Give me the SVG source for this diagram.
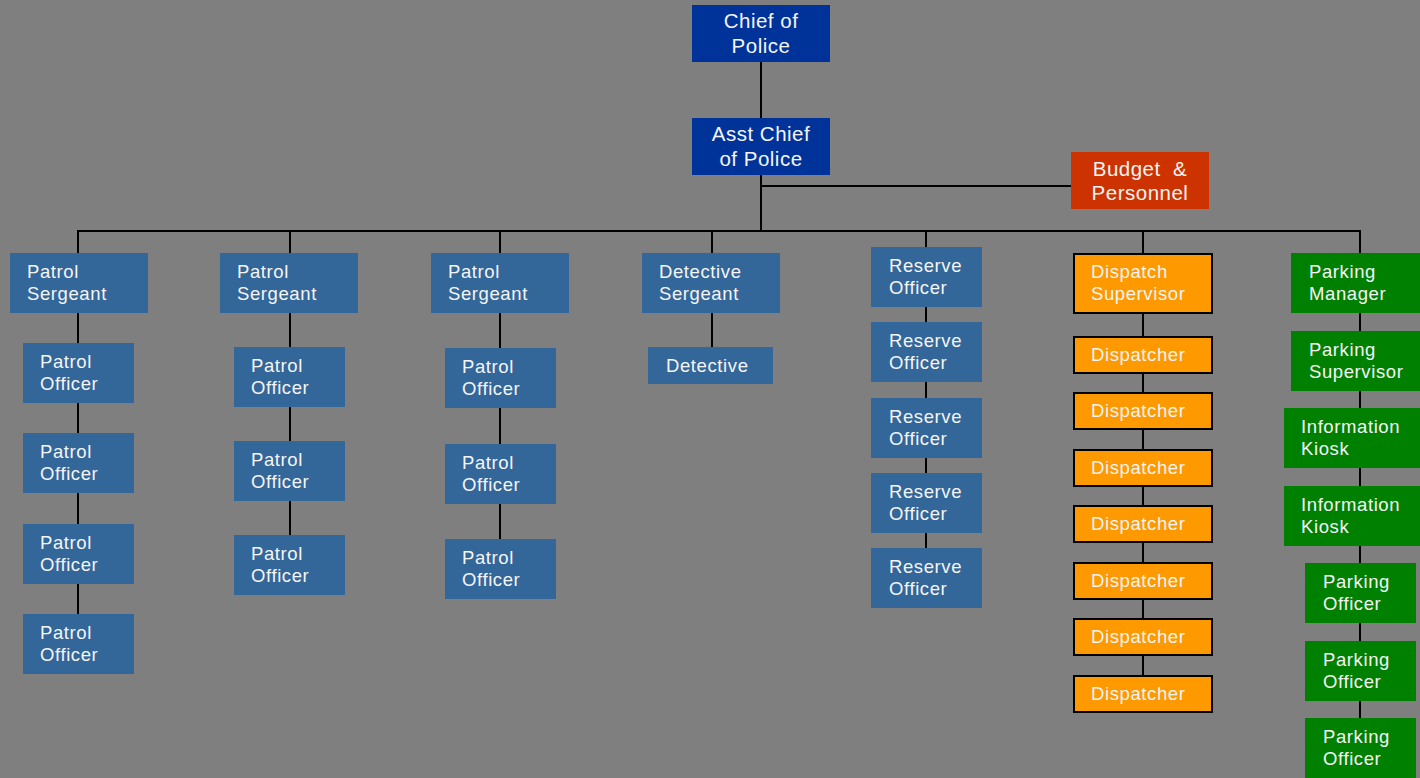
<svg xmlns="http://www.w3.org/2000/svg" width="1420" height="778" viewBox="0 0 1420 778">
<style>
.bg{fill:#7f7f7f}
.ln{stroke:#000;stroke-width:2;fill:none}
.nv{fill:#003399}
.bl{fill:#336699}
.rd{fill:#cc3300}
.or{fill:#ff9900;stroke:#000;stroke-width:2}
.gr{fill:#008000}
text{font-family:"Liberation Sans",Arial,sans-serif;fill:#f5f5f5;font-size:18.5px;letter-spacing:0.6px}
.big{font-size:20.5px;text-anchor:middle;letter-spacing:0.5px}
</style>
<rect class="bg" x="0" y="0" width="1420" height="778"/>
<g id="connectors">
<line class="ln" x1="761" y1="62" x2="761" y2="232"/>
<line class="ln" x1="761" y1="186" x2="1071" y2="186"/>
<line class="ln" x1="77" y1="231" x2="1361" y2="231"/>
<line class="ln" x1="78" y1="231" x2="78" y2="614"/>
<line class="ln" x1="290" y1="231" x2="290" y2="535"/>
<line class="ln" x1="500" y1="231" x2="500" y2="539"/>
<line class="ln" x1="712" y1="231" x2="712" y2="347"/>
<line class="ln" x1="926" y1="231" x2="926" y2="548"/>
<line class="ln" x1="1143" y1="231" x2="1143" y2="675"/>
<line class="ln" x1="1360" y1="231" x2="1360" y2="718"/>
</g>
<g id="chief"><rect class="nv" x="692" y="5" width="138" height="57"/><text class="big" x="761" y="28">Chief of</text><text class="big" x="761" y="53">Police</text></g>
<g id="asst-chief"><rect class="nv" x="692" y="118" width="138" height="57"/><text class="big" x="761" y="141">Asst Chief</text><text class="big" x="761" y="166">of Police</text></g>
<g id="budget"><rect class="rd" x="1071" y="152" width="138" height="57"/><text class="big" x="1140" y="176" xml:space="preserve">Budget  &amp;</text><text class="big" x="1140" y="200">Personnel</text></g>

<g id="patrol-sergeant-1"><rect class="bl" x="10" y="253" width="138" height="60"/><text x="27" y="278">Patrol</text><text x="27" y="300">Sergeant</text></g>
<g id="patrol-officer-1a"><rect class="bl" x="23" y="343" width="111" height="60"/><text x="40" y="368">Patrol</text><text x="40" y="390">Officer</text></g>
<g id="patrol-officer-1b"><rect class="bl" x="23" y="433" width="111" height="60"/><text x="40" y="458">Patrol</text><text x="40" y="480">Officer</text></g>
<g id="patrol-officer-1c"><rect class="bl" x="23" y="524" width="111" height="60"/><text x="40" y="549">Patrol</text><text x="40" y="571">Officer</text></g>
<g id="patrol-officer-1d"><rect class="bl" x="23" y="614" width="111" height="60"/><text x="40" y="639">Patrol</text><text x="40" y="661">Officer</text></g>

<g id="patrol-sergeant-2"><rect class="bl" x="220" y="253" width="138" height="60"/><text x="237" y="278">Patrol</text><text x="237" y="300">Sergeant</text></g>
<g id="patrol-officer-2a"><rect class="bl" x="234" y="347" width="111" height="60"/><text x="251" y="372">Patrol</text><text x="251" y="394">Officer</text></g>
<g id="patrol-officer-2b"><rect class="bl" x="234" y="441" width="111" height="60"/><text x="251" y="466">Patrol</text><text x="251" y="488">Officer</text></g>
<g id="patrol-officer-2c"><rect class="bl" x="234" y="535" width="111" height="60"/><text x="251" y="560">Patrol</text><text x="251" y="582">Officer</text></g>

<g id="patrol-sergeant-3"><rect class="bl" x="431" y="253" width="138" height="60"/><text x="448" y="278">Patrol</text><text x="448" y="300">Sergeant</text></g>
<g id="patrol-officer-3a"><rect class="bl" x="445" y="348" width="111" height="60"/><text x="462" y="373">Patrol</text><text x="462" y="395">Officer</text></g>
<g id="patrol-officer-3b"><rect class="bl" x="445" y="444" width="111" height="60"/><text x="462" y="469">Patrol</text><text x="462" y="491">Officer</text></g>
<g id="patrol-officer-3c"><rect class="bl" x="445" y="539" width="111" height="60"/><text x="462" y="564">Patrol</text><text x="462" y="586">Officer</text></g>

<g id="detective-sergeant"><rect class="bl" x="642" y="253" width="138" height="60"/><text x="659" y="278">Detective</text><text x="659" y="300">Sergeant</text></g>
<g id="detective"><rect class="bl" x="648" y="347" width="125" height="37"/><text x="666" y="372">Detective</text></g>

<g id="reserve-officer-1"><rect class="bl" x="871" y="247" width="111" height="60"/><text x="889" y="272">Reserve</text><text x="889" y="294">Officer</text></g>
<g id="reserve-officer-2"><rect class="bl" x="871" y="322" width="111" height="60"/><text x="889" y="347">Reserve</text><text x="889" y="369">Officer</text></g>
<g id="reserve-officer-3"><rect class="bl" x="871" y="398" width="111" height="60"/><text x="889" y="423">Reserve</text><text x="889" y="445">Officer</text></g>
<g id="reserve-officer-4"><rect class="bl" x="871" y="473" width="111" height="60"/><text x="889" y="498">Reserve</text><text x="889" y="520">Officer</text></g>
<g id="reserve-officer-5"><rect class="bl" x="871" y="548" width="111" height="60"/><text x="889" y="573">Reserve</text><text x="889" y="595">Officer</text></g>

<g id="dispatch-supervisor"><rect class="or" x="1074" y="254" width="138" height="59"/><text x="1091" y="278">Dispatch</text><text x="1091" y="300">Supervisor</text></g>
<g id="dispatcher-1"><rect class="or" x="1074" y="337" width="138" height="36"/><text x="1091" y="361">Dispatcher</text></g>
<g id="dispatcher-2"><rect class="or" x="1074" y="393" width="138" height="36"/><text x="1091" y="417">Dispatcher</text></g>
<g id="dispatcher-3"><rect class="or" x="1074" y="450" width="138" height="36"/><text x="1091" y="474">Dispatcher</text></g>
<g id="dispatcher-4"><rect class="or" x="1074" y="506" width="138" height="36"/><text x="1091" y="530">Dispatcher</text></g>
<g id="dispatcher-5"><rect class="or" x="1074" y="563" width="138" height="36"/><text x="1091" y="587">Dispatcher</text></g>
<g id="dispatcher-6"><rect class="or" x="1074" y="619" width="138" height="36"/><text x="1091" y="643">Dispatcher</text></g>
<g id="dispatcher-7"><rect class="or" x="1074" y="676" width="138" height="36"/><text x="1091" y="700">Dispatcher</text></g>

<g id="parking-manager"><rect class="gr" x="1291" y="253" width="129" height="60"/><text x="1309" y="278">Parking</text><text x="1309" y="300">Manager</text></g>
<g id="parking-supervisor"><rect class="gr" x="1291" y="331" width="129" height="60"/><text x="1309" y="356">Parking</text><text x="1309" y="378">Supervisor</text></g>
<g id="information-kiosk-1"><rect class="gr" x="1284" y="408" width="136" height="60"/><text x="1301" y="433">Information</text><text x="1301" y="455">Kiosk</text></g>
<g id="information-kiosk-2"><rect class="gr" x="1284" y="486" width="136" height="60"/><text x="1301" y="511">Information</text><text x="1301" y="533">Kiosk</text></g>
<g id="parking-officer-1"><rect class="gr" x="1305" y="563" width="111" height="60"/><text x="1323" y="588">Parking</text><text x="1323" y="610">Officer</text></g>
<g id="parking-officer-2"><rect class="gr" x="1305" y="641" width="111" height="60"/><text x="1323" y="666">Parking</text><text x="1323" y="688">Officer</text></g>
<g id="parking-officer-3"><rect class="gr" x="1305" y="718" width="111" height="60"/><text x="1323" y="743">Parking</text><text x="1323" y="765">Officer</text></g>
</svg>
